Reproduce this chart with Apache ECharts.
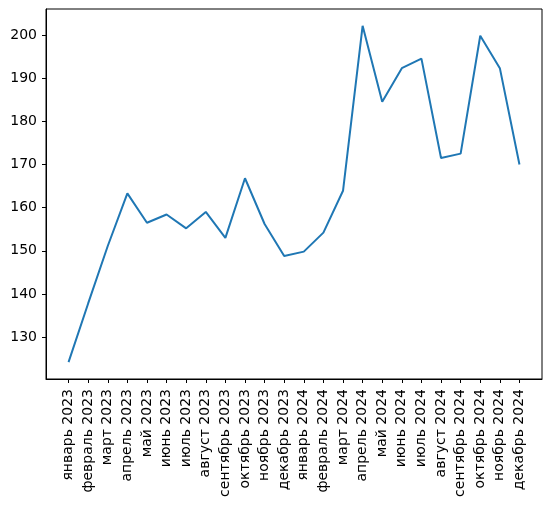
<!DOCTYPE html>
<html>
<head>
<meta charset="utf-8">
<script src="https://cdn.jsdelivr.net/npm/echarts@6/dist/echarts.min.js"></script>
<style>
    html, body { margin: 0; padding: 0; background: #fff; }
    #chart { width: 552px; height: 506px; }
</style>
</head>
<body>
<div id="chart"></div>
<script>
//  月份
const months = [
    'январь 2023', 'февраль 2023', 'март 2023', 'апрель 2023', 'май 2023', 'июнь 2023',
    'июль 2023', 'август 2023', 'сентябрь 2023', 'октябрь 2023', 'ноябрь 2023', 'декабрь 2023',
    'январь 2024', 'февраль 2024', 'март 2024', 'апрель 2024', 'май 2024', 'июнь 2024',
    'июль 2024', 'август 2024', 'сентябрь 2024', 'октябрь 2024', 'ноябрь 2024', 'декабрь 2024'
];
//  数值
const values = [
    124.2, 137.8, 151.1, 163.3, 156.5, 158.4, 155.2, 159.0, 153.0, 166.8, 156.2, 148.8,
    149.8, 154.2, 163.9, 202.1, 184.5, 192.3, 194.5, 171.5, 172.5, 199.8, 192.3, 170.0
];
//  纵轴刻度
const yTicks = [130, 140, 150, 160, 170, 180, 190, 200];

const xTicks = months.map((m, i) => i);
const font = 'DejaVu Sans';

//  坐标轴公共样式
const axisLine = { show: true, onZero: false, lineStyle: { color: '#000', width: 1 } };
const axisTick = function (ticks) {
    return {
        show: true,
        length: 4,
        lineStyle: { color: '#000', width: 1 },
        customValues: ticks,
    };
};

const myChart = echarts.init(document.getElementById('chart'));
myChart.setOption({
    animation: false,
    grid: {
        left: 46,
        right: 10,
        top: 9,
        bottom: 127,
        containLabel: false,
        show: true,
        borderColor: '#000',
        borderWidth: 1,
    },
    xAxis: {
        type: 'value',
        min: -1.15,
        max: months.length - 1 + 1.15,
        axisLine: axisLine,
        splitLine: { show: false },
        axisTick: axisTick(xTicks),
        axisLabel: {
            rotate: 90,
            margin: 10,
            color: '#000',
            fontFamily: font,
            fontSize: 14,
            customValues: xTicks,
            formatter: v => months[Math.round(v)],
        },
    },
    yAxis: {
        type: 'value',
        min: 120.3,
        max: 206,
        axisLine: axisLine,
        splitLine: { show: false },
        axisTick: axisTick(yTicks),
        axisLabel: {
            margin: 9,
            color: '#000',
            fontFamily: font,
            fontSize: 14,
            customValues: yTicks,
        },
    },
    series: [
        {
            type: 'line',
            data: values.map((v, i) => [i, v]),
            symbol: 'none',
            lineStyle: { color: '#1f77b4', width: 2 },
        }
    ],
});
</script>
</body>
</html>
